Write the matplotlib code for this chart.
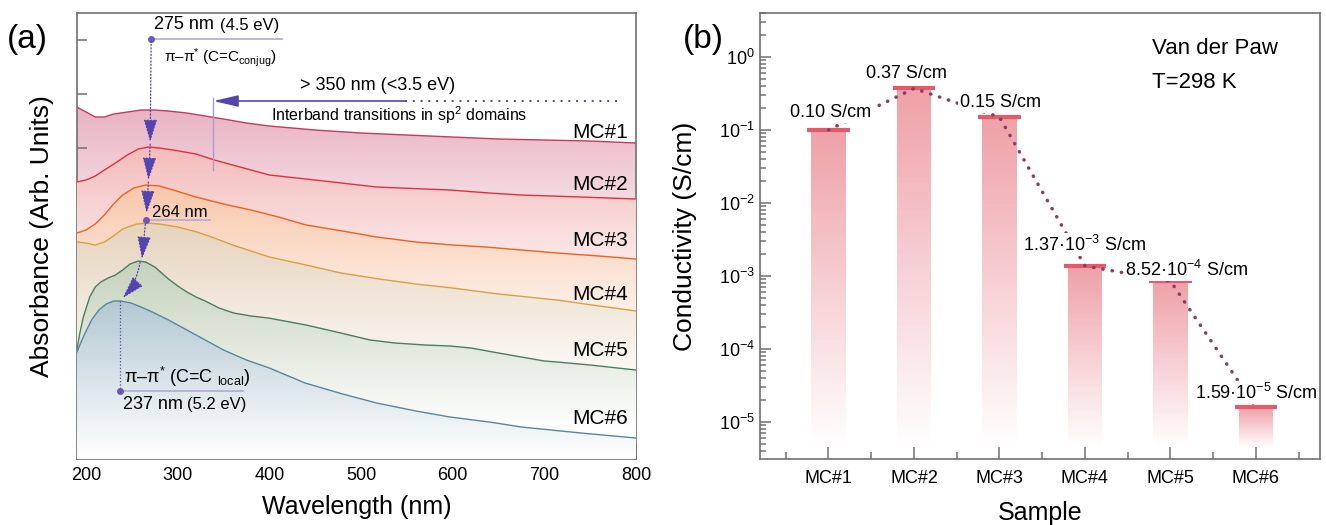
import numpy as np
import matplotlib
matplotlib.use("Agg")
import matplotlib.pyplot as plt
from matplotlib.colors import LinearSegmentedColormap, to_rgb
from matplotlib.ticker import MultipleLocator, FixedLocator, NullFormatter

plt.rcParams['font.family'] = ['Liberation Sans', 'DejaVu Sans']
plt.rcParams['mathtext.fontset'] = 'custom'
plt.rcParams['mathtext.rm'] = 'Liberation Sans'
plt.rcParams['mathtext.it'] = 'Liberation Sans:italic'
plt.rcParams['mathtext.bf'] = 'Liberation Sans:bold'

# ---- panel (a): UV-vis spectra, stacked (arb. units)
names = ['MC#1', 'MC#2', 'MC#3', 'MC#4', 'MC#5', 'MC#6']
wl1 = [190, 200, 210, 220, 230, 245, 260, 275, 290, 310, 330, 350, 375, 400, 450, 500, 550, 600, 650, 700, 750, 800]
ab1 = [352, 347, 342, 342, 345, 347, 349, 349, 348, 346, 343, 340, 336, 333, 329, 326, 324, 322, 320, 319, 318, 316]
wl2 = [190, 200, 210, 220, 232, 245, 257, 268, 280, 295, 320, 340, 360, 380, 400, 450, 517, 597, 640, 675, 740, 800]
ab2 = [277, 279, 283, 289, 296, 304, 310, 312, 311, 309, 305, 299, 294, 289, 284, 279, 272, 269, 266, 264, 262, 260]
wl3 = [190, 200, 210, 220, 230, 240, 252, 265, 280, 295, 320, 350, 380, 410, 440, 480, 517, 560, 600, 636, 675, 714, 760, 800]
ab3 = [226, 229, 235, 244, 255, 264, 271, 274, 273, 269, 262, 255, 249, 242, 234, 228, 222, 217, 214, 212, 209, 206, 203, 200]
wl4 = [190, 200, 210, 220, 230, 240, 255, 267, 280, 300, 321, 340, 360, 380, 400, 440, 478, 520, 560, 600, 650, 714, 760, 800]
ab4 = [217, 216, 214, 217, 223, 230, 235, 236, 235, 232, 227, 221, 214, 208, 202, 194, 186, 180, 175, 171, 165, 159, 153, 148]
wl5 = [190, 193, 197, 204, 210, 216, 224, 232, 240, 248, 257, 265, 275, 290, 300, 310, 320, 330, 345, 361, 380, 399,
       440, 478, 510, 537, 570, 597, 620, 650, 675, 700, 714, 750, 800]
ab5 = [109, 125, 142, 162, 172, 177, 181, 184, 189, 195, 198, 197, 192, 180, 173, 167, 162, 158, 151, 146, 143, 141,
       134, 126, 119, 116, 114, 113, 111, 106, 102, 98, 97, 94, 89]
wl6 = [190, 195, 200, 206, 214, 222, 230, 238, 249, 260, 270, 290, 320, 350, 375, 400, 439, 480, 517, 560, 597, 640, 675, 740, 800]
ab6 = [107, 118, 128, 139, 149, 155, 158, 158, 156, 152, 148, 139, 124, 109, 99, 91, 76, 65, 56, 48, 42, 37, 32, 26, 21]
spectra = [(wl1, ab1), (wl2, ab2), (wl3, ab3), (wl4, ab4), (wl5, ab5), (wl6, ab6)]
label_y = [327, 275, 219, 165, 109, 41]

line_cols = ['#c23b62', '#e0303f', '#f0601e', '#d9a042', '#4e7d5e', '#5b8798']
fill_cols = ['#e9b1c1', '#f4bcbb', '#f9c7ab', '#e6d3bc', '#c4d2bc', '#b3c9d2']

# ---- panel (b): conductivity
samples = ['MC#1', 'MC#2', 'MC#3', 'MC#4', 'MC#5', 'MC#6']
cond = [0.10, 0.37, 0.15, 1.37e-3, 8.52e-4, 1.59e-5]
cond_txt = ['0.10 S/cm', '0.37 S/cm', '0.15 S/cm',
            '1.37·10$^{-3}$ S/cm', '8.52·10$^{-4}$ S/cm', '1.59·10$^{-5}$ S/cm']
txt_pos = [(1.03, 0.171), (1.91, 0.585), (3.01, 0.234), (4.0, 2.66e-3), (5.19, 1.21e-3), (6.0, 2.5e-5)]

fig = plt.figure(figsize=(13.26, 5.25), dpi=100)
ax1 = fig.add_axes([0.058, 0.1257, 0.4216, 0.8495])
ax2 = fig.add_axes([0.5732, 0.1257, 0.4223, 0.8495])

spine_c = '#707070'
for ax in (ax1, ax2):
    for s in ax.spines.values():
        s.set_color(spine_c)
        s.set_linewidth(1.2)
    ax.tick_params(which='both', direction='in', color=spine_c, width=1.1)
    ax.tick_params(which='major', length=8)
    ax.tick_params(which='minor', length=5)

# spectra with gradient fills
for i, (wl, ab) in enumerate(spectra):
    wl = np.array(wl)
    ab = np.array(ab)
    top = ab.max()
    low = max(top - 170, 0)
    yy = np.linspace(0, top, 400).reshape(-1, 1)
    g = np.clip((yy - low) / (top - low), 0, 1)
    cmap = LinearSegmentedColormap.from_list('g%d' % i, ['white', fill_cols[i]])
    poly = ax1.fill_between(wl, ab, 0, facecolor='none', edgecolor='none', zorder=2 * i + 1)
    im = ax1.imshow(g, extent=[wl.min(), wl.max(), 0, top], origin='lower', aspect='auto',
                    cmap=cmap, vmin=0, vmax=1, zorder=2 * i + 1, interpolation='bilinear')
    im.set_clip_path(poly.get_paths()[0], transform=ax1.transData)
    ax1.plot(wl, ab, color=line_cols[i], lw=1.0, zorder=2 * i + 2)
    ax1.text(791, label_y[i], names[i], ha='right', va='center', fontsize=15, zorder=30)

ax1.set_xlim(190, 800)
ax1.set_ylim(0, 446)
ax1.xaxis.set_major_locator(MultipleLocator(100))
ax1.xaxis.set_minor_locator(MultipleLocator(50))
ax1.yaxis.set_major_locator(FixedLocator(np.arange(41, 420, 54)))
ax1.yaxis.set_major_formatter(NullFormatter())
ax1.tick_params(axis='x', which='major', length=11, labelsize=13, pad=6)
ax1.tick_params(axis='y', which='major', length=7)
ax1.set_xlabel('Wavelength (nm)', fontsize=18, labelpad=8)
ax1.set_ylabel('Absorbance (Arb. Units)', fontsize=19)
ax1.yaxis.set_label_coords(-0.041, 0.5)

# annotations in (a)
ac = '#5444b0'
ul = '#b6aed8'
z = 25
ax1.plot([271, 414], [420, 420], color=ul, lw=1.3, zorder=z)
ax1.plot([271], [420], 'o', color='#6a5ab8', ms=4, zorder=z)
ax1.text(274, 426, '275 nm', fontsize=13, va='bottom', zorder=z)
ax1.text(346, 426, '(4.5 eV)', fontsize=12, va='bottom', zorder=z)
ax1.text(285, 401, 'π–π$^{*}$ (C=C$_{\\mathregular{conjug}}$)', fontsize=11, va='center', zorder=z)

hd = '-|>,head_length=1.4,head_width=0.42'
chain = [((271, 418), (270, 317)), ((270, 315), (268, 279)), ((268, 277), (266, 246)),
         ((265, 238), (261, 200))]
for a, b in chain:
    ax1.annotate('', xy=b, xytext=a, zorder=z,
                 arrowprops=dict(arrowstyle=hd, color=ac, lw=0.9, ls=':', shrinkA=0, shrinkB=0))
ax1.annotate('', xy=(240, 161), xytext=(259, 197), zorder=z,
             arrowprops=dict(arrowstyle=hd, color=ac, lw=0.9, ls=':', shrinkA=0, shrinkB=0,
                             connectionstyle='arc3,rad=-0.15'))
ax1.plot([265, 335], [239, 239], color=ul, lw=1.3, zorder=z)
ax1.plot([265], [239], 'o', color='#6a5ab8', ms=4, zorder=z)
ax1.text(272, 247, '264 nm', fontsize=12, va='center', zorder=z)

ax1.plot([237, 237], [158, 68], color=ac, lw=0.9, ls=':', zorder=z)
ax1.plot([237, 371], [68, 68], color=ul, lw=1.3, zorder=z)
ax1.plot([237], [68], 'o', color='#6a5ab8', ms=4, zorder=z)
ax1.text(241, 82, 'π–π$^{*}$ (C=C $_{\\mathregular{local}}$)', fontsize=13, va='center', zorder=z)
ax1.text(240, 55, '237 nm', fontsize=13, va='center', zorder=z)
ax1.text(310, 55, '(5.2 eV)', fontsize=12, va='center', zorder=z)

ax1.plot([338, 338], [361, 289], color='#a59cd6', lw=1.0, zorder=z)
ax1.annotate('', xy=(339, 358), xytext=(548, 358), zorder=z,
             arrowprops=dict(arrowstyle='-|>,head_length=1.5,head_width=0.35', color=ac, lw=1.2,
                             shrinkA=0, shrinkB=0))
ax1.plot([548, 782], [358, 358], color=ac, lw=1.4, ls=(0, (1, 3)), zorder=z)
ax1.text(518, 374, '> 350 nm (<3.5 eV)', fontsize=13, ha='center', va='center', zorder=z)
ax1.text(542, 344, 'Interband transitions in sp$^{2}$ domains', fontsize=11.5, ha='center', va='center', zorder=z)

# conductivity bars with fading fill
xs = np.arange(1, len(samples) + 1)
ybot = 4.5e-6
top_c = np.array(to_rgb('#eea0a7'))
nseg = 80
for x, c in zip(xs, cond):
    edges = c * (ybot / c) ** (np.arange(nseg + 1) / nseg)
    for k in range(nseg):
        f = (k + 0.5) / nseg
        col = top_c * (1 - f) + np.ones(3) * f
        ax2.bar(x, edges[k] - edges[k + 1], bottom=edges[k + 1], width=0.4,
                color=col, edgecolor='none', zorder=2)
ax2.hlines(cond, xs - 0.25, xs + 0.25, color='#e45a6b', lw=3, zorder=3)
ax2.plot(xs, cond, color='#8c3d64', lw=2.5, ls=(0, (0.1, 2.6)), dash_capstyle='round', zorder=4)
for (tx, ty), s in zip(txt_pos, cond_txt):
    ax2.text(tx, ty, s, ha='center', va='center', fontsize=13, zorder=5,
             bbox=dict(facecolor='white', edgecolor='none', pad=1.0))

ax2.set_yscale('log')
ax2.set_ylim(3.1e-6, 4.0)
ax2.set_xlim(0.2, 6.75)
ax2.set_xticks(xs)
ax2.set_xticklabels(samples)
ax2.xaxis.set_minor_locator(FixedLocator(np.arange(0.5, 7, 1.0)))
ax2.tick_params(axis='x', which='major', length=11, labelsize=13, pad=8)
ax2.tick_params(axis='y', which='major', length=8, labelsize=13)
ax2.tick_params(axis='y', which='minor', length=4)
ax2.set_xlabel('Sample', fontsize=18, labelpad=10)
ax2.set_ylabel('Conductivity (S/cm)', fontsize=19)
ax2.yaxis.set_label_coords(-0.112, 0.5)
ax2.text(0.70, 0.92, 'Van der Paw', transform=ax2.transAxes, fontsize=16, va='center')
ax2.text(0.70, 0.845, 'T=298 K', transform=ax2.transAxes, fontsize=16, va='center')

fig.text(0.005, 0.925, '(a)', fontsize=24, va='center')
fig.text(0.515, 0.925, '(b)', fontsize=24, va='center')

fig.savefig('out.png', dpi=100)
